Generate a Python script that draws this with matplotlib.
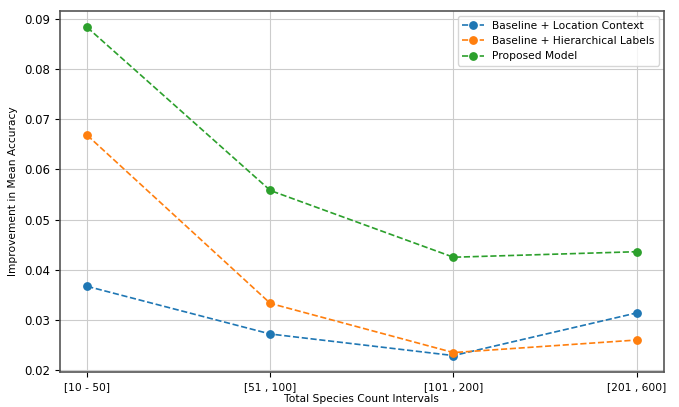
import numpy as np
import matplotlib.pyplot as plt

intervals = ["[10 - 50]", "[51 , 100]", "[101 , 200]", "[201 , 600]"]
location_context = [0.0367, 0.0272, 0.0229, 0.0314]
hierarchical_labels = [0.0668, 0.0333, 0.0235, 0.0260]
proposed_model = [0.0883, 0.0558, 0.0425, 0.0436]

plt.rcParams["font.size"] = 7.7

fig = plt.figure(figsize=(6.79, 4.07), dpi=100)
ax = fig.add_axes([0.088, 0.086, 0.89, 0.887])

x = np.arange(len(intervals))
ax.plot(x, location_context, "--o", color="#1f77b4", label="Baseline + Location Context", markersize=5.3, linewidth=1.2)
ax.plot(x, hierarchical_labels, "--o", color="#ff7f0e", label="Baseline + Hierarchical Labels", markersize=5.3, linewidth=1.2)
ax.plot(x, proposed_model, "--o", color="#2ca02c", label="Proposed Model", markersize=5.3, linewidth=1.2)

ax.set_xticks(x)
ax.set_xticklabels(intervals)
ax.tick_params(axis="y", labelsize=8.5)
ax.set_xlabel("Total Species Count Intervals", labelpad=2)
ax.set_ylabel("Improvement in Mean Accuracy")
ax.grid(True, color="#cccccc", linewidth=0.8)
for s in ax.spines.values():
    s.set_color("#555555")
    s.set_linewidth(1.2)
ax.legend(loc="upper right", fontsize=7.7)

fig.savefig("out.png", dpi=100)
